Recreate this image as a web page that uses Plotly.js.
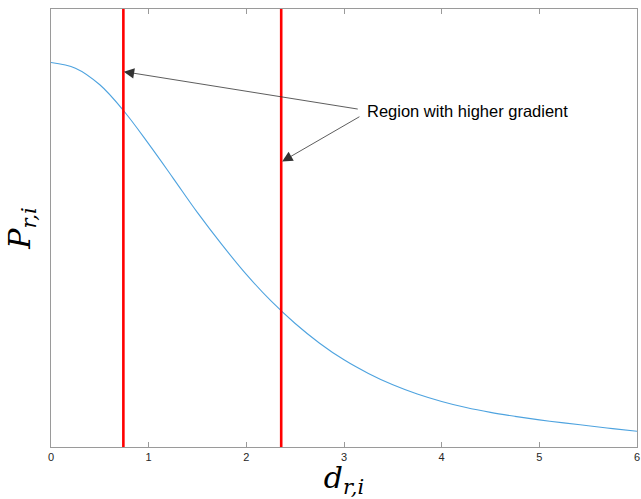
<!DOCTYPE html>
<html>
<head>
<meta charset="utf-8">
<script src="https://cdn.plot.ly/plotly-3.0.1.min.js"></script>
<style>html,body{margin:0;padding:0;background:#fff;}</style>
</head>
<body>
<div id="chart" style="width:641px;height:499px;"></div>
<script>
// Curve values
const dValues = [0, 0.25, 0.5, 0.75, 1.0, 1.25, 1.5, 1.75, 2.0, 2.25, 2.5, 2.75, 3.0, 3.25, 3.5, 3.75, 4.0, 4.25, 4.5, 4.75, 5.0, 5.25, 5.5, 5.75, 6.0];
const pValues = [0.878, 0.865, 0.827, 0.766, 0.692, 0.614, 0.535, 0.462, 0.394, 0.334, 0.282, 0.237, 0.199, 0.168, 0.142, 0.121, 0.104, 0.090, 0.079, 0.070, 0.062, 0.055, 0.0485, 0.042, 0.036];

// Red vertical markers (region boundaries)
const markerX = [0.741, 2.357];
const markerYSpan = [0, 1];

// Annotation
const noteText = "Region with higher gradient";
const noteTextPos = [3.215, 0.767];
const arrowHeads = [[0.745, 0.857], [2.367, 0.652]];
const arrowTails = [[3.156, 0.771], [3.173, 0.756]];

const xTicks = [0, 1, 2, 3, 4, 5, 6];

const traces = [
  {
    x: dValues, y: pValues, type: 'scatter', mode: 'lines',
    line: {color: '#4ea3df', width: 1.1, shape: 'spline', smoothing: 1},
    hoverinfo: 'skip'
  }
];
markerX.forEach(function (mx) {
  traces.push({
    x: [mx, mx], y: markerYSpan, type: 'scatter', mode: 'lines',
    line: {color: '#ff0000', width: 2.6}, hoverinfo: 'skip'
  });
});

const annotations = arrowHeads.map(function (h, i) {
  return {
    x: h[0], y: h[1], xref: 'x', yref: 'y',
    ax: arrowTails[i][0], ay: arrowTails[i][1], axref: 'x', ayref: 'y',
    text: '', showarrow: true, arrowhead: 2, arrowsize: 2.6, arrowwidth: 0.8,
    arrowcolor: '#333333', standoff: 0, startstandoff: 0
  };
});
annotations.push({
  x: noteTextPos[0], y: noteTextPos[1], xref: 'x', yref: 'y',
  text: noteText, showarrow: false, xanchor: 'left', yanchor: 'middle',
  font: {family: 'Liberation Sans, Arial, sans-serif', size: 16.5, color: '#000000'}
});

const layout = {
  width: 641, height: 499,
  margin: {l: 51, r: 4, t: 9, b: 52, pad: 0},
  paper_bgcolor: '#ffffff', plot_bgcolor: '#ffffff',
  showlegend: false,
  xaxis: {
    range: [0, 6], tickvals: xTicks, ticktext: xTicks.map(String),
    ticks: 'inside', ticklen: 5, tickwidth: 1, tickcolor: '#9a9a9a',
    showline: true, linecolor: '#9a9a9a', linewidth: 1.2, mirror: 'ticks',
    showgrid: false, zeroline: false,
    tickfont: {family: 'Liberation Sans, Arial, sans-serif', size: 11, color: '#262626'},
    title: {
      text: '<i>d</i><sub><i>r,i</i></sub>', standoff: 8,
      font: {family: 'DejaVu Serif, Liberation Serif, serif', size: 30, color: '#000000'}
    }
  },
  yaxis: {
    range: [0, 1], showticklabels: false, ticks: '',
    showline: true, linecolor: '#9a9a9a', linewidth: 1.2, mirror: true,
    showgrid: false, zeroline: false,
    title: {
      text: '<i>P</i><sub><i>r,i</i></sub>', standoff: 10,
      font: {family: 'DejaVu Serif, Liberation Serif, serif', size: 30, color: '#000000'}
    }
  },
  annotations: annotations
};

Plotly.newPlot('chart', traces, layout, {displayModeBar: false, staticPlot: true});
</script>
</body>
</html>
